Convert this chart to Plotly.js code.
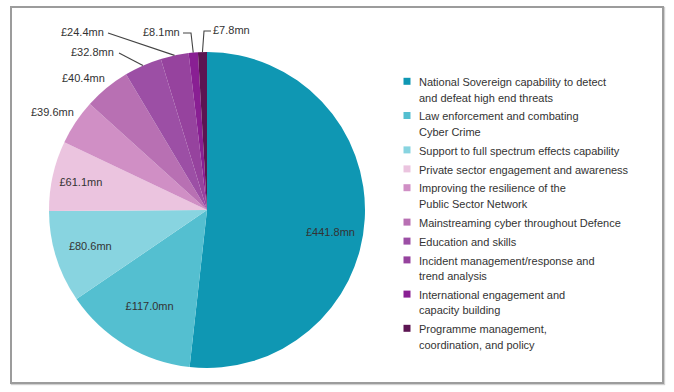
<!DOCTYPE html>
<html>
<head>
<meta charset="utf-8">
<script src="https://cdn.plot.ly/plotly-3.0.1.min.js"></script>
<style>
  html, body { margin: 0; padding: 0; background: #fff; overflow: hidden; }
  #chart { position: absolute; left: 0; top: 0; width: 674px; height: 392px; }
  #frame { position: absolute; left: 10px; top: 6px; width: 650px; height: 374px; z-index: 10;
           border: 2px solid #9c9c9c; box-shadow: 1px 1px 1px #d0d0d0; pointer-events: none; }
</style>
</head>
<body>
<div id="chart"></div>
<div id="frame"></div>
<script>
// ---- data ----
const categories = [
  "National Sovereign capability to detect<br>and defeat high end threats",
  "Law enforcement and combating<br>Cyber Crime",
  "Support to full spectrum effects capability",
  "Private sector engagement and awareness",
  "Improving the resilience of the<br>Public Sector Network",
  "Mainstreaming cyber throughout Defence",
  "Education and skills",
  "Incident management/response and<br>trend analysis",
  "International engagement and<br>capacity building",
  "Programme management,<br>coordination, and policy"
];
const values = [441.8, 117.0, 80.6, 61.1, 39.6, 40.4, 32.8, 24.4, 8.1, 7.8];
const valueLabels = ["£441.8mn", "£117.0mn", "£80.6mn", "£61.1mn", "£39.6mn", "£40.4mn", "£32.8mn", "£24.4mn", "£8.1mn", "£7.8mn"];

// ---- styling ----
const colors = ["#0f97b3", "#54bfd0", "#88d4e0", "#ebc4df", "#d08fc5", "#b870b3", "#9c4fa5", "#96439e", "#891f93", "#5c1552"];
const positions = ["none", "inside", "inside", "inside", "none", "none", "none", "none", "none", "none"];
const FONT = "Liberation Sans, Arial, sans-serif";
const W = 674, H = 392;
// label placement (pixel centre) for labels drawn as annotations, keyed by slice index
const labelPlacement = {
  0: { at: [330, 232] },
  4: { at: [52, 112] },
  5: { at: [83, 78] },
  6: { at: [92, 52], leader: [[119, 53]] },
  7: { at: [82, 32], leader: [[108, 33]] },
  8: { at: [161, 32], leader: [[183, 33], [191, 33]] },
  9: { at: [231, 30], leader: [[211, 31], [204, 31]] }
};

const trace = {
  type: "pie",
  labels: categories.map(c => '<span style="font-size:11px">' + c + '</span>'),
  values: values,
  text: valueLabels,
  textinfo: "text",
  textposition: positions,
  insidetextorientation: "horizontal",
  sort: false,
  direction: "clockwise",
  rotation: 0,
  marker: { colors: colors, line: { width: 0 } },
  insidetextfont: { family: FONT, size: 11, color: "#333333" },
  domain: { x: [49 / W, 365 / W], y: [1 - 368 / H, 1 - 52 / H] },
  hoverinfo: "label+text"
};

const layout = {
  width: W, height: H,
  margin: { l: 0, r: 0, t: 0, b: 0 },
  paper_bgcolor: "#ffffff",
  showlegend: true,
  legend: {
    x: 379 / W, xanchor: "left",
    y: 1 - 67 / H, yanchor: "top",
    font: { family: FONT, size: 12, color: "#333333" },
    bgcolor: "rgba(0,0,0,0)",
    traceorder: "normal"
  },
  font: { family: FONT }
};

const gd = document.getElementById("chart");
const px2paper = (p) => [p[0] / W, 1 - p[1] / H];

function rimPoint(i) {
  const cd = gd.calcdata[0];
  const cd0 = cd[0];
  const total = values.reduce((a, b) => a + b, 0);
  let before = 0;
  for (let k = 0; k < i; k++) before += values[k];
  const ang = (before + values[i] / 2) / total * 2 * Math.PI; // clockwise from 12 o'clock
  return [cd0.cx + cd0.r * Math.sin(ang), cd0.cy - cd0.r * Math.cos(ang)];
}

function tweakLegend() {
  const items = gd.querySelectorAll(".legend .traces");
  items.forEach((g, idx) => {
    const p = g.querySelector("path.legendpie");
    if (!p) return;
    const nLines = categories[idx].split("<br>").length;
    const dy = -(nLines - 1) * 15.6 / 2;
    p.setAttribute("d", "M3.5,3.5V-3.5H-3.5V3.5Z");
    p.setAttribute("transform", "translate(28," + dy + ")");
  });
}

Plotly.newPlot(gd, [trace], layout, { displayModeBar: false, staticPlot: true }).then(() => {
  const annotations = [];
  const shapes = [];
  Object.keys(labelPlacement).forEach(key => {
    const i = +key;
    const pl = labelPlacement[i];
    const a = px2paper(pl.at);
    annotations.push({
      xref: "paper", yref: "paper", x: a[0], y: a[1],
      xanchor: "center", yanchor: "middle", showarrow: false,
      text: valueLabels[i], font: { family: FONT, size: 11, color: "#333333" }
    });
    if (pl.leader) {
      const pts = pl.leader.concat([rimPoint(i)]).map(px2paper);
      const path = pts.map((p, k) => (k ? "L" : "M") + p[0].toFixed(5) + "," + p[1].toFixed(5)).join(" ");
      shapes.push({ type: "path", xref: "paper", yref: "paper", path: path,
                    line: { color: "#444444", width: 1.1 } });
    }
  });
  return Plotly.relayout(gd, { annotations: annotations, shapes: shapes });
}).then(tweakLegend);
</script>
</body>
</html>
